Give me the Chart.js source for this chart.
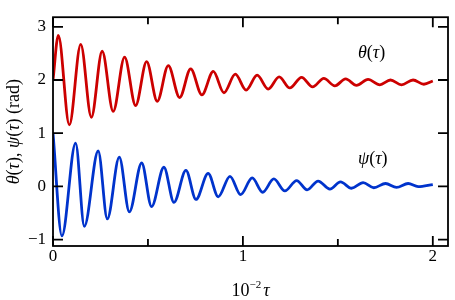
<!DOCTYPE html>
<html>
<head>
<meta charset="utf-8">
<script src="https://cdn.jsdelivr.net/npm/chart.js@4"></script>
<style>
  html, body { margin: 0; padding: 0; background: #fff; }
  #wrap { width: 455px; height: 300px; }
</style>
</head>
<body>
<div id="wrap"><canvas id="pend"></canvas></div>
<script>
// extremes of theta(tau)
const thetaTau = [0, 0.028, 0.086, 0.146, 0.202, 0.259, 0.317, 0.377, 0.435, 0.493, 0.549, 0.607, 0.667, 0.725, 0.784, 0.844, 0.900, 0.960, 1.017, 1.075, 1.133, 1.191, 1.247, 1.309, 1.367, 1.426, 1.484, 1.541, 1.598, 1.659, 1.721, 1.777, 1.835, 1.896, 1.953, 2.0];
const thetaVal = [2.0, 2.84, 1.155, 2.67, 1.30, 2.54, 1.41, 2.43, 1.52, 2.345, 1.60, 2.27, 1.67, 2.21, 1.72, 2.16, 1.76, 2.11, 1.81, 2.09, 1.83, 2.06, 1.85, 2.05, 1.87, 2.03, 1.89, 2.02, 1.90, 2.01, 1.91, 2.00, 1.91, 2.00, 1.92, 1.98];

// extremes of psi(tau)
const psiTau = [0, 0.047, 0.119, 0.165, 0.238, 0.286, 0.349, 0.402, 0.467, 0.519, 0.584, 0.637, 0.700, 0.753, 0.817, 0.870, 0.932, 0.988, 1.049, 1.104, 1.163, 1.221, 1.283, 1.338, 1.396, 1.458, 1.514, 1.572, 1.633, 1.689, 1.751, 1.809, 1.870, 1.923, 2.0];
const psiVal = [1.0, -0.93, 0.815, -0.75, 0.665, -0.61, 0.55, -0.48, 0.44, -0.38, 0.36, -0.30, 0.30, -0.245, 0.245, -0.195, 0.19, -0.155, 0.16, -0.11, 0.14, -0.085, 0.11, -0.065, 0.10, -0.05, 0.085, -0.035, 0.07, -0.025, 0.055, -0.02, 0.055, -0.005, 0.035];

const xTicks = [0, 1, 2];
const xMinor = [0.5, 1.5];
const yTicks = [-1, 0, 1, 2, 3];

const serif = '"Liberation Serif", "DejaVu Serif", serif';

function pts(xs, ys) {
  return xs.map((t, i) => ({ x: t, y: ys[i] }));
}

// draw a run of [text, italic] pieces starting at x
function runText(ctx, parts, x, y, size) {
  parts.forEach(p => {
    ctx.font = (p[1] ? 'italic ' : '') + size + 'px ' + serif;
    ctx.fillText(p[0], x, y);
    x += ctx.measureText(p[0]).width;
  });
  return x;
}
function runWidth(ctx, parts, size) {
  let w = 0;
  parts.forEach(p => {
    ctx.font = (p[1] ? 'italic ' : '') + size + 'px ' + serif;
    w += ctx.measureText(p[0]).width;
  });
  return w;
}

const frame = {
  id: 'frame',
  afterDraw(chart) {
    const { ctx, chartArea: a, scales: { x, y } } = chart;
    ctx.save();
    ctx.strokeStyle = '#000';
    ctx.lineWidth = 1.8;
    ctx.strokeRect(a.left, a.top, a.right - a.left, a.bottom - a.top);

    ctx.beginPath();
    xTicks.forEach(v => {
      const px = x.getPixelForValue(v);
      ctx.moveTo(px, a.bottom); ctx.lineTo(px, a.bottom - 10);
      ctx.moveTo(px, a.top); ctx.lineTo(px, a.top + 10);
    });
    xMinor.forEach(v => {
      const px = x.getPixelForValue(v);
      ctx.moveTo(px, a.bottom); ctx.lineTo(px, a.bottom - 7);
      ctx.moveTo(px, a.top); ctx.lineTo(px, a.top + 7);
    });
    yTicks.forEach(v => {
      const py = y.getPixelForValue(v);
      ctx.moveTo(a.left, py); ctx.lineTo(a.left + 10, py);
      ctx.moveTo(a.right, py); ctx.lineTo(a.right - 10, py);
    });
    ctx.stroke();

    ctx.fillStyle = '#000';
    ctx.textBaseline = 'alphabetic';
    ctx.textAlign = 'left';

    // x title: 10^-2 tau
    const xt = [['10', false]];
    let w = runWidth(ctx, xt, 18);
    ctx.font = '11px ' + serif;
    const supW = ctx.measureText('\u22122').width + 2;
    ctx.font = 'italic 18px ' + serif;
    const tauW = ctx.measureText('\u03c4').width;
    let sx = (a.left + a.right) / 2 - (w + supW + tauW) / 2;
    sx = runText(ctx, xt, sx, 296, 18);
    ctx.font = '11px ' + serif;
    ctx.fillText('\u22122', sx, 288);
    sx += supW;
    ctx.font = 'italic 18px ' + serif;
    ctx.fillText('\u03c4', sx, 296);

    // y title
    const yt = [['\u03b8', true], ['(', false], ['\u03c4', true], ['), ', false], ['\u03c8', true], ['(', false], ['\u03c4', true], [') (rad)', false]];
    ctx.save();
    ctx.translate(19, (a.top + a.bottom) / 2);
    ctx.rotate(-Math.PI / 2);
    runText(ctx, yt, -runWidth(ctx, yt, 18) / 2, 0, 18);
    ctx.restore();

    // curve labels
    runText(ctx, [['\u03b8', true], ['(', false], ['\u03c4', true], [')', false]], 358, 58, 18);
    runText(ctx, [['\u03c8', true], ['(', false], ['\u03c4', true], [')', false]], 358, 164, 18);
    ctx.restore();
  }
};

new Chart(document.getElementById('pend'), {
  type: 'line',
  data: {
    datasets: [{
      label: 'theta',
      data: pts(thetaTau, thetaVal),
      borderColor: '#cc0000',
      borderWidth: 2.8,
      pointRadius: 0,
      cubicInterpolationMode: 'monotone',
      fill: false
    }, {
      label: 'psi',
      data: pts(psiTau, psiVal),
      borderColor: '#0033cc',
      borderWidth: 2.8,
      pointRadius: 0,
      cubicInterpolationMode: 'monotone',
      fill: false
    }]
  },
  options: {
    responsive: true,
    maintainAspectRatio: false,
    animation: false,
    layout: { padding: { top: 5, right: 7, left: 0, bottom: 0 } },
    plugins: { legend: { display: false }, tooltip: { enabled: false } },
    scales: {
      x: {
        type: 'linear',
        min: 0,
        max: 2.08,
        grid: { display: false, drawTicks: false },
        border: { display: false },
        afterBuildTicks: s => { s.ticks = xTicks.map(v => ({ value: v })); },
        afterFit: s => { s.height = 54; },
        ticks: {
          padding: 0,
          color: '#000',
          font: { family: serif, size: 17 },
          maxRotation: 0
        }
      },
      y: {
        type: 'linear',
        min: -1.12,
        max: 3.18,
        grid: { display: false, drawTicks: false },
        border: { display: false },
        afterBuildTicks: s => { s.ticks = yTicks.map(v => ({ value: v })); },
        afterFit: s => { s.width = 53; },
        ticks: {
          padding: 7,
          color: '#000',
          font: { family: serif, size: 17 },
          callback: v => String(v).replace('-', '\u2212')
        }
      }
    }
  },
  plugins: [frame]
});
</script>
</body>
</html>
